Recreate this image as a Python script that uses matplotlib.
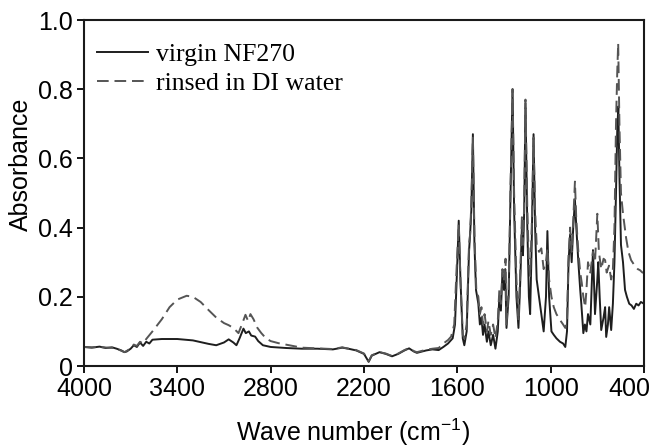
import matplotlib
matplotlib.use("Agg")
import matplotlib.pyplot as plt
import matplotlib.transforms as mtransforms
import numpy as np

# ---- data ----
wn_virgin = [4000, 3950, 3900, 3860, 3820, 3790, 3760, 3740, 3725, 3700, 3680, 3660, 3640, 3620,
             3600, 3580, 3560, 3500, 3400, 3300, 3200, 3150, 3100, 3070, 3040, 3020, 3000, 2975,
             2960, 2940, 2925, 2900, 2880, 2850, 2800, 2700, 2600, 2500, 2400, 2340, 2300, 2250,
             2200, 2170, 2150, 2100, 2060, 2020, 1980, 1940, 1910, 1880, 1860, 1800, 1760, 1720,
             1690, 1660, 1630, 1615, 1600, 1591, 1580, 1565, 1555, 1540, 1525, 1518, 1510, 1500,
             1490, 1480, 1465, 1455, 1445, 1435, 1425, 1410, 1400, 1385, 1370, 1355, 1340, 1330,
             1320, 1310, 1300, 1292, 1284, 1270, 1258, 1245, 1235, 1220, 1207, 1195, 1185, 1178,
             1170, 1162, 1150, 1140, 1132, 1122, 1110, 1100, 1090, 1075, 1060, 1045, 1030, 1021,
             1010, 995, 980, 963, 940, 920, 906, 895, 885, 875, 865, 855, 844, 835, 822, 810, 803,
             790, 780, 770, 760, 745, 728, 715, 700, 694, 685, 675, 660, 650, 643, 632, 624, 611,
             600, 590, 580, 572, 565, 558, 548, 535, 522, 510, 495, 480, 465, 450, 435, 420, 400]
abs_virgin = [0.055, 0.053, 0.056, 0.052, 0.054, 0.050, 0.045, 0.040, 0.042, 0.050, 0.060, 0.055,
              0.068, 0.058, 0.070, 0.065, 0.076, 0.078, 0.078, 0.074, 0.064, 0.060, 0.068, 0.077,
              0.068, 0.060, 0.080, 0.108, 0.095, 0.100, 0.088, 0.085, 0.072, 0.060, 0.055, 0.052,
              0.050, 0.050, 0.048, 0.053, 0.050, 0.045, 0.035, 0.012, 0.030, 0.040, 0.035, 0.028,
              0.035, 0.045, 0.051, 0.042, 0.038, 0.045, 0.048, 0.046, 0.055, 0.065, 0.080, 0.12,
              0.30, 0.42, 0.25, 0.08, 0.06, 0.10, 0.33, 0.38, 0.45, 0.67, 0.35, 0.22, 0.18, 0.12,
              0.14, 0.09, 0.12, 0.07, 0.10, 0.06, 0.09, 0.05, 0.10, 0.20, 0.16, 0.27, 0.22, 0.28,
              0.11, 0.20, 0.50, 0.80, 0.45, 0.20, 0.11, 0.25, 0.40, 0.32, 0.45, 0.76, 0.40, 0.20,
              0.15, 0.35, 0.67, 0.40, 0.25, 0.20, 0.15, 0.10, 0.20, 0.39, 0.20, 0.10, 0.09, 0.08,
              0.07, 0.065, 0.055, 0.10, 0.30, 0.38, 0.30, 0.40, 0.48, 0.40, 0.30, 0.22, 0.18, 0.095,
              0.12, 0.10, 0.15, 0.12, 0.335, 0.15, 0.25, 0.30, 0.20, 0.104, 0.14, 0.17, 0.084, 0.12,
              0.17, 0.104, 0.18, 0.30, 0.50, 0.68, 0.75, 0.55, 0.35, 0.30, 0.22, 0.20, 0.18, 0.175,
              0.165, 0.18, 0.175, 0.185, 0.18]

wn_rinsed = [4000, 3950, 3900, 3850, 3800, 3760, 3740, 3720, 3700, 3680, 3660, 3640, 3620, 3600,
             3560, 3500, 3450, 3400, 3340, 3300, 3250, 3200, 3150, 3100, 3070, 3040, 3007, 2985,
             2962, 2945, 2930, 2910, 2885, 2860, 2830, 2800, 2750, 2680, 2600, 2500, 2400, 2340,
             2300, 2250, 2200, 2170, 2150, 2100, 2060, 2020, 1980, 1940, 1910, 1880, 1860, 1800,
             1760, 1720, 1690, 1660, 1640, 1620, 1605, 1591, 1580, 1565, 1555, 1540, 1525, 1518,
             1510, 1500, 1490, 1478, 1465, 1455, 1445, 1435, 1425, 1410, 1400, 1385, 1370, 1355,
             1340, 1330, 1320, 1310, 1300, 1290, 1284, 1270, 1258, 1245, 1235, 1220, 1207, 1195,
             1185, 1178, 1170, 1162, 1150, 1140, 1132, 1122, 1110, 1100, 1090, 1075, 1060, 1045,
             1030, 1021, 1010, 995, 980, 963, 940, 920, 906, 895, 885, 875, 865, 855, 844, 835,
             822, 810, 800, 790, 778, 770, 760, 745, 728, 715, 700, 690, 675, 660, 650, 640, 625,
             611, 600, 590, 580, 572, 566, 558, 548, 535, 515, 500, 483, 460, 440, 426, 410, 400]
abs_rinsed = [0.055, 0.054, 0.055, 0.053, 0.052, 0.044, 0.040, 0.045, 0.052, 0.062, 0.058, 0.070,
              0.065, 0.078, 0.10, 0.135, 0.170, 0.192, 0.203, 0.200, 0.185, 0.162, 0.140, 0.124,
              0.118, 0.110, 0.095, 0.12, 0.148, 0.13, 0.150, 0.135, 0.11, 0.095, 0.080, 0.072,
              0.066, 0.060, 0.053, 0.051, 0.049, 0.054, 0.050, 0.046, 0.036, 0.014, 0.031, 0.040,
              0.036, 0.029, 0.036, 0.046, 0.052, 0.043, 0.040, 0.047, 0.050, 0.052, 0.065, 0.075,
              0.085, 0.12, 0.28, 0.41, 0.25, 0.09, 0.08, 0.12, 0.35, 0.38, 0.47, 0.66, 0.38, 0.22,
              0.20, 0.15, 0.17, 0.12, 0.15, 0.10, 0.13, 0.09, 0.12, 0.08, 0.13, 0.22, 0.18, 0.28,
              0.25, 0.31, 0.12, 0.22, 0.52, 0.80, 0.50, 0.25, 0.13, 0.28, 0.43, 0.35, 0.47, 0.77,
              0.45, 0.30, 0.26, 0.40, 0.66, 0.45, 0.35, 0.33, 0.34, 0.28, 0.30, 0.34, 0.25, 0.20,
              0.17, 0.15, 0.133, 0.12, 0.11, 0.13, 0.32, 0.40, 0.33, 0.42, 0.533, 0.42, 0.33, 0.27,
              0.24, 0.20, 0.17, 0.22, 0.30, 0.27, 0.33, 0.30, 0.44, 0.33, 0.28, 0.31, 0.306, 0.27,
              0.29, 0.25, 0.28, 0.40, 0.70, 0.85, 0.933, 0.70, 0.50, 0.44, 0.37, 0.33, 0.306, 0.29,
              0.28, 0.277, 0.27, 0.27]

series_labels = ["virgin NF270", "rinsed in DI water"]
x_ticks = [4000, 3400, 2800, 2200, 1600, 1000, 400]
y_ticks = [0, 0.2, 0.4, 0.6, 0.8, 1.0]
y_tick_labels = ["0", "0.2", "0.4", "0.6", "0.8", "1.0"]

# ---- figure ----
plt.rcParams['font.family'] = ['Liberation Sans', 'DejaVu Sans']
fig = plt.figure(figsize=(6.54, 4.47), dpi=100)
ax = fig.add_axes([84/654, 1 - 366/447, (644 - 84)/654, (366 - 20)/447])

ax.plot(wn_virgin, abs_virgin, color='#1e1e1e', lw=1.4, label=series_labels[0])
ax.plot(wn_rinsed, abs_rinsed, color='#555555', lw=1.4, dashes=(6, 3), label=series_labels[1])

ax.set_xlim(4000, 400)
ax.set_ylim(0, 1.0)
ax.set_xticks(x_ticks)
ax.set_xticklabels([str(t) for t in x_ticks])
ax.set_yticks(y_ticks)
ax.set_yticklabels(y_tick_labels)
ax.tick_params(axis='both', direction='out', length=5, width=1.3, labelsize=18, pad=3,
               top=False, right=False)
for s in ax.spines.values():
    s.set_linewidth(1.5)
    s.set_color('#1a1a1a')

# last x tick label shifted left so it stays inside the figure
last = ax.get_xticklabels()[-1]
last.set_horizontalalignment('right')
last.set_transform(last.get_transform() + mtransforms.ScaledTranslation(6/100, 0, fig.dpi_scale_trans))

ax.set_xlabel(r'Wave number (cm$\mathregular{^{-1}}$)', fontsize=18)
ax.xaxis.set_label_coords((353 - 84)/560, -0.145)
ax.set_ylabel('Absorbance', fontsize=18)
ax.yaxis.set_label_coords((33 - 84)/560, (366 - 164.5)/346)

leg = ax.legend(loc='upper left', bbox_to_anchor=(0.0225, 0.934), frameon=False,
                prop={'family': 'Liberation Serif', 'size': 18.5},
                handlelength=2.0, handletextpad=0.3, labelspacing=0.25,
                borderpad=0, borderaxespad=0)

fig.savefig('out.png', dpi=100)
